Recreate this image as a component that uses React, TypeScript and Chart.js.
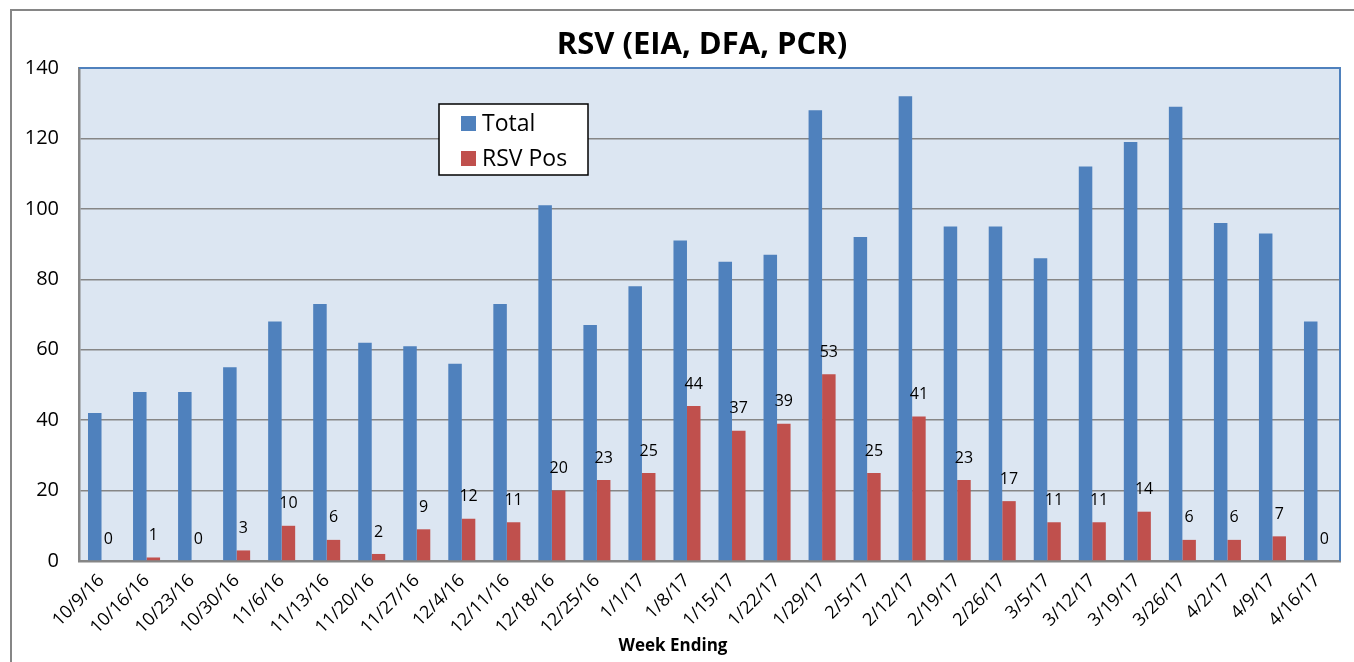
import React, { useEffect, useRef } from "react";
import { Chart, registerables } from "chart.js";

Chart.register(...registerables);

const weeks = [
  "10/9/16", "10/16/16", "10/23/16", "10/30/16", "11/6/16", "11/13/16", "11/20/16",
  "11/27/16", "12/4/16", "12/11/16", "12/18/16", "12/25/16", "1/1/17", "1/8/17",
  "1/15/17", "1/22/17", "1/29/17", "2/5/17", "2/12/17", "2/19/17", "2/26/17",
  "3/5/17", "3/12/17", "3/19/17", "3/26/17", "4/2/17", "4/9/17", "4/16/17",
];
const totalValues = [42, 48, 48, 55, 68, 73, 62, 61, 56, 73, 101, 67, 78, 91, 85, 87, 128, 92, 132, 95, 95, 86, 112, 119, 129, 96, 93, 68];
const rsvPosValues = [0, 1, 0, 3, 10, 6, 2, 9, 12, 11, 20, 23, 25, 44, 37, 39, 53, 25, 41, 23, 17, 11, 11, 14, 6, 6, 7, 0];
const seriesNames = ["Total", "RSV Pos"];
const chartTitle = "RSV (EIA, DFA, PCR)";
const xAxisTitle = "Week Ending";

const BLUE = "#4f81bd";
const RED = "#c0504d";
const GRAY = "#868686";
const FONT = "'Open Sans', 'Noto Sans', sans-serif";

const decorPlugin = {
  id: "decor",
  beforeDraw(chart: any) {
    const { ctx, chartArea } = chart;
    ctx.save();
    ctx.fillStyle = "#ffffff";
    ctx.fillRect(0, 0, chart.width, chart.height);
    ctx.strokeStyle = GRAY;
    ctx.lineWidth = 2;
    ctx.strokeRect(11, 10, chart.width + 20, chart.height + 20);
    ctx.fillStyle = "#dce6f2";
    ctx.fillRect(chartArea.left, chartArea.top, chartArea.right - chartArea.left, chartArea.bottom - chartArea.top);
    ctx.restore();
  },
  afterDraw(chart: any) {
    const { ctx, chartArea } = chart;
    ctx.save();
    ctx.strokeStyle = BLUE;
    ctx.lineWidth = 2;
    ctx.beginPath();
    ctx.moveTo(chartArea.left, chartArea.top);
    ctx.lineTo(chartArea.right, chartArea.top);
    ctx.lineTo(chartArea.right, chartArea.bottom);
    ctx.stroke();
    ctx.fillStyle = "#000";
    ctx.font = `bold 31px ${FONT}`;
    ctx.textAlign = "center";
    ctx.textBaseline = "middle";
    ctx.fillText(chartTitle, 702, 45);
    ctx.font = `bold 17px ${FONT}`;
    ctx.fillText(xAxisTitle, 673, 646);
    const lx = 439, ly = 104, lw = 149, lh = 71;
    ctx.fillStyle = "#fff";
    ctx.fillRect(lx, ly, lw, lh);
    ctx.strokeStyle = "#000";
    ctx.lineWidth = 1.5;
    ctx.strokeRect(lx, ly, lw, lh);
    const colors = [BLUE, RED];
    const ys = [123, 158];
    ctx.font = `23px ${FONT}`;
    ctx.textAlign = "left";
    seriesNames.forEach((name, i) => {
      ctx.fillStyle = colors[i];
      ctx.fillRect(461, ys[i] - 7, 15, 15);
      ctx.fillStyle = "#000";
      ctx.fillText(name, 482, ys[i] + 1);
    });
    const meta = chart.getDatasetMeta(1);
    ctx.font = `16px ${FONT}`;
    ctx.textAlign = "center";
    ctx.textBaseline = "middle";
    meta.data.forEach((el: any, i: number) => {
      ctx.fillText(String(rsvPosValues[i]), el.x, el.y - 22);
    });
    ctx.restore();
  },
};

export default function App() {
  const ref = useRef<HTMLCanvasElement>(null);
  useEffect(() => {
    if (!ref.current) return;
    const chart = new Chart(ref.current, {
      type: "bar",
      data: {
        labels: weeks,
        datasets: [
          { label: seriesNames[0], data: totalValues, backgroundColor: BLUE, categoryPercentage: 0.6, barPercentage: 1.0 },
          { label: seriesNames[1], data: rsvPosValues, backgroundColor: RED, categoryPercentage: 0.6, barPercentage: 1.0 },
        ],
      },
      options: {
        animation: false,
        responsive: false,
        layout: { padding: { top: 68, right: 14, left: 0, bottom: 0 } },
        plugins: {
          legend: { display: false },
          title: { display: false },
          tooltip: { enabled: false },
        },
        scales: {
          x: {
            grid: { display: false, drawTicks: false },
            border: { display: true, color: GRAY, width: 2.5 },
            ticks: {
              minRotation: 45,
              maxRotation: 45,
              autoSkip: false,
              color: "#000",
              padding: 9,
              font: { family: FONT, size: 18 },
            },
            afterFit(scale: any) { scale.height = 101; },
          },
          y: {
            min: 0,
            max: 140,
            ticks: { stepSize: 20, color: "#000", padding: 20, font: { family: FONT, size: 20 } },
            grid: { color: GRAY, lineWidth: 1.5, drawTicks: false },
            border: { display: true, color: GRAY, width: 2.5 },
            afterFit(scale: any) { scale.width = 79; },
          },
        },
      },
      plugins: [decorPlugin],
    });
    return () => chart.destroy();
  }, []);
  return (
    <div style={{ position: "fixed", left: 0, top: 0, width: 1354, height: 662 }}>
      <canvas ref={ref} width={1354} height={662} style={{ width: 1354, height: 662, display: "block" }} />
    </div>
  );
}
